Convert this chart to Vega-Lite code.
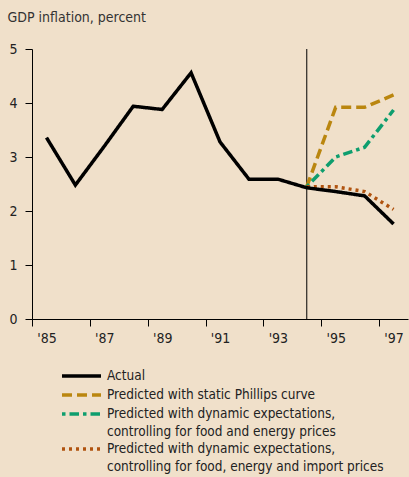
{
  "$schema": "https://vega.github.io/schema/vega-lite/v6.json",
  "width": 376,
  "height": 270,
  "autosize": {"type": "none"},
  "padding": {"left": 32, "top": 49, "right": 1, "bottom": 158},
  "background": "#F0E0CA",
  "config": {
    "view": {"stroke": null},
    "font": "DejaVu Sans Condensed, Liberation Sans",
    "axis": {"labelFont": "DejaVu Sans Condensed, Liberation Sans", "titleFont": "DejaVu Sans Condensed, Liberation Sans"},
    "legend": {"labelFont": "DejaVu Sans Condensed, Liberation Sans"}
  },
  "data": {
    "values": [
      {"year": 1994, "value": 2.45, "series": "Predicted with static Phillips curve"},
      {"year": 1995, "value": 3.92, "series": "Predicted with static Phillips curve"},
      {"year": 1996, "value": 3.92, "series": "Predicted with static Phillips curve"},
      {"year": 1997, "value": 4.15, "series": "Predicted with static Phillips curve"},
      {"year": 1994, "value": 2.45, "series": "Predicted with dynamic expectations,|controlling for food and energy prices"},
      {"year": 1995, "value": 3.0, "series": "Predicted with dynamic expectations,|controlling for food and energy prices"},
      {"year": 1996, "value": 3.18, "series": "Predicted with dynamic expectations,|controlling for food and energy prices"},
      {"year": 1997, "value": 3.87, "series": "Predicted with dynamic expectations,|controlling for food and energy prices"},
      {"year": 1994, "value": 2.45, "series": "Predicted with dynamic expectations,|controlling for food, energy and import prices"},
      {"year": 1995, "value": 2.45, "series": "Predicted with dynamic expectations,|controlling for food, energy and import prices"},
      {"year": 1996, "value": 2.36, "series": "Predicted with dynamic expectations,|controlling for food, energy and import prices"},
      {"year": 1997, "value": 2.03, "series": "Predicted with dynamic expectations,|controlling for food, energy and import prices"},
      {"year": 1985, "value": 3.36, "series": "Actual"},
      {"year": 1986, "value": 2.48, "series": "Actual"},
      {"year": 1987, "value": 3.2, "series": "Actual"},
      {"year": 1988, "value": 3.94, "series": "Actual"},
      {"year": 1989, "value": 3.88, "series": "Actual"},
      {"year": 1990, "value": 4.56, "series": "Actual"},
      {"year": 1991, "value": 3.28, "series": "Actual"},
      {"year": 1992, "value": 2.59, "series": "Actual"},
      {"year": 1993, "value": 2.59, "series": "Actual"},
      {"year": 1994, "value": 2.43, "series": "Actual"},
      {"year": 1995, "value": 2.36, "series": "Actual"},
      {"year": 1996, "value": 2.28, "series": "Actual"},
      {"year": 1997, "value": 1.76, "series": "Actual"}
    ]
  },
  "layer": [
    {
      "data": {"values": [{"year": 1994}]},
      "mark": {"type": "rule", "color": "#000000", "strokeWidth": 1},
      "encoding": {
        "x": {"field": "year", "type": "quantitative"}
      }
    },
    {
      "mark": {"type": "line", "strokeWidth": 3.5},
      "encoding": {
        "x": {
          "field": "year",
          "type": "quantitative",
          "scale": {"domain": [1984.5, 1997.5], "nice": false, "zero": false},
          "axis": {
            "title": null,
            "values": [1984.5, 1985.5, 1986.5, 1987.5, 1988.5, 1989.5, 1990.5, 1991.5, 1992.5, 1993.5, 1994.5, 1995.5, 1996.5, 1997.5],
            "labelExpr": "datum.value < 1997 && (floor(datum.value) % 2 == 0) ? \"'\" + slice(toString(datum.value + 0.5), 2) : ''",
            "labelOffset": 14.5,
            "labelFlush": false,
            "labelOverlap": false,
            "labelBound": false,
            "labelFontSize": 14,
            "labelColor": "#222222",
            "labelPadding": 5,
            "tickSize": 7,
            "tickColor": "#000000",
            "domainColor": "#000000",
            "grid": false
          }
        },
        "y": {
          "field": "value",
          "type": "quantitative",
          "scale": {"domain": [0, 5], "nice": false},
          "axis": {
            "title": "GDP inflation, percent",
            "titleX": -25,
            "titleY": -28,
            "titleAngle": 0,
            "titleAlign": "left",
            "titleBaseline": "alphabetic",
            "titleFontSize": 14,
            "titleFontWeight": "normal",
            "titleColor": "#333333",
            "values": [0, 1, 2, 3, 4, 5],
            "labelFontSize": 14,
            "labelColor": "#222222",
            "labelPadding": 8,
            "tickSize": 7,
            "tickColor": "#000000",
            "domainColor": "#000000",
            "grid": false
          }
        },
        "color": {
          "field": "series",
          "type": "nominal",
          "scale": {
            "domain": ["Actual", "Predicted with static Phillips curve", "Predicted with dynamic expectations,|controlling for food and energy prices", "Predicted with dynamic expectations,|controlling for food, energy and import prices"],
            "range": ["#000000", "#BA860F", "#0E9E6E", "#B0530F"]
          },
          "legend": {
            "title": null,
            "orient": "none",
            "legendX": 28,
            "legendY": 318,
            "padding": 0,
            "rowPadding": 1,
            "clipHeight": 18,
            "symbolType": "stroke",
            "symbolSize": 1521,
            "symbolStrokeWidth": 3.5,
            "labelExpr": "split(datum.label, '|')",
            "labelFontSize": 13.5,
            "labelColor": "#222222",
            "labelOffset": 4,
            "labelLimit": 400,
            "labelBaseline": "middle",
            "encode": {"labels": {"update": {"lineHeight": {"value": 18.3}}}}
          }
        },
        "strokeDash": {
          "field": "series",
          "type": "nominal",
          "scale": {
            "domain": ["Actual", "Predicted with static Phillips curve", "Predicted with dynamic expectations,|controlling for food and energy prices", "Predicted with dynamic expectations,|controlling for food, energy and import prices"],
            "range": [[1, 0], [10, 5], [3.5, 4, 9.5, 4], [3, 4]]
          },
          "legend": {
            "title": null,
            "orient": "none",
            "legendX": 28,
            "legendY": 318,
            "padding": 0,
            "rowPadding": 1,
            "clipHeight": 18,
            "symbolType": "stroke",
            "symbolSize": 1521,
            "symbolStrokeWidth": 3.5,
            "labelExpr": "split(datum.label, '|')",
            "labelFontSize": 13.5,
            "labelColor": "#222222",
            "labelOffset": 4,
            "labelLimit": 400,
            "labelBaseline": "middle",
            "encode": {"labels": {"update": {"lineHeight": {"value": 18.3}}}}
          }
        }
      }
    }
  ]
}
